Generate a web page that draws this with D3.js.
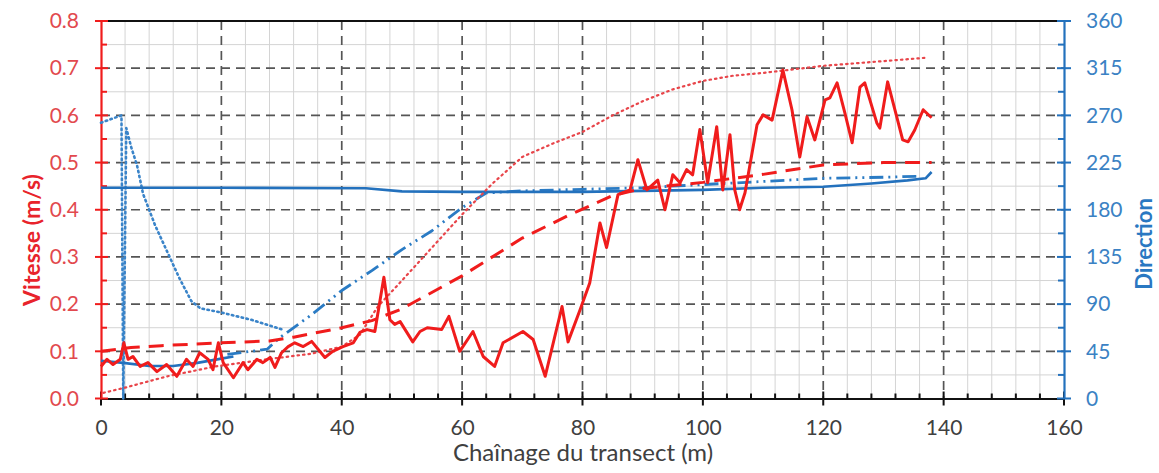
<!DOCTYPE html>
<html>
<head>
<meta charset="utf-8">
<script src="https://cdn.jsdelivr.net/npm/d3@7"></script>
<style>
  html, body { margin: 0; padding: 0; background: #fff; }
  svg { display: block; }
  text { font-family: Lato, "Open Sans", sans-serif; }
</style>
</head>
<body>
<svg id="chart" width="1159" height="473"></svg>
<script>
// ---------- data ----------
const xTicks = [0, 20, 40, 60, 80, 100, 120, 140, 160];
const vTicks = [0.0, 0.1, 0.2, 0.3, 0.4, 0.5, 0.6, 0.7, 0.8];
const dTicks = [0, 45, 90, 135, 180, 225, 270, 315, 360];

const xTitle = "Chaînage du transect (m)";
const vTitle = "Vitesse (m/s)";
const dTitle = "Direction";

// Vitesse mesurée (m/s)
const vitesse = [
  [0,0.068],[1,0.083],[2,0.072],[3.2,0.083],[3.8,0.118],[4.5,0.083],[5.3,0.089],[6.5,0.068],
  [7.8,0.076],[9.3,0.057],[10.9,0.072],[12.6,0.047],[14.2,0.083],[15.3,0.068],[16.4,0.097],
  [17.8,0.083],[18.6,0.061],[19.5,0.118],[20.3,0.076],[22,0.044],[23.6,0.076],[24.4,0.061],
  [25.9,0.083],[26.9,0.076],[28.1,0.087],[28.9,0.066],[30,0.097],[31.1,0.11],[32.2,0.118],
  [33.6,0.11],[35,0.121],[37.2,0.087],[38.5,0.1],[40.2,0.11],[41.9,0.118],[43,0.14],
  [44.2,0.146],[45.5,0.142],[47,0.257],[48,0.167],[48.8,0.157],[49.7,0.163],[51.8,0.12],
  [53,0.142],[54.2,0.15],[56.6,0.146],[57.8,0.174],[59.6,0.1],[61.8,0.142],[63.5,0.089],
  [65.4,0.068],[66.8,0.118],[70.1,0.142],[71.8,0.125],[73.8,0.047],[76.6,0.195],[77.6,0.12],
  [79.6,0.188],[81.2,0.245],[82.9,0.372],[84,0.32],[85.9,0.432],[87.9,0.442],[89.2,0.506],
  [90.7,0.442],[92.5,0.463],[93.7,0.4],[95,0.474],[96.2,0.457],[97.3,0.485],[98.3,0.474],
  [99.5,0.57],[100.8,0.457],[102.3,0.576],[103.3,0.442],[104.5,0.559],[105.3,0.442],
  [106.1,0.4],[107,0.436],[109,0.58],[110,0.601],[111.5,0.59],[113.3,0.696],[114.8,0.612],
  [116.1,0.512],[117.3,0.597],[118.6,0.548],[120.3,0.633],[121.1,0.637],[122.3,0.669],
  [123.6,0.605],[124.8,0.542],[126.1,0.66],[126.9,0.669],[128.9,0.584],[129.4,0.573],
  [130.7,0.671],[131.9,0.612],[133.2,0.548],[134.1,0.544],[135.2,0.569],[136.6,0.612],[138,0.595]
];
// Vitesse (tirets)
const vitesseTirets = [
  [0,0.1],[5,0.108],[10,0.112],[20,0.118],[28,0.122],[32,0.13],[40,0.15],[45,0.165],[50,0.19],
  [60,0.26],[70,0.34],[78,0.39],[85,0.43],[90,0.445],[100,0.458],[110,0.475],[120,0.495],
  [130,0.5],[138,0.5]
];
// Vitesse (pointillés)
const vitessePoints = [
  [0.4,0.012],[4,0.023],[11,0.047],[19,0.068],[27.5,0.083],[35,0.095],[40,0.11],[43,0.135],
  [46,0.195],[50,0.25],[55,0.32],[60,0.39],[65,0.455],[70,0.512],[75,0.54],[80,0.565],
  [85,0.6],[90,0.63],[95,0.655],[100,0.673],[105,0.684],[110,0.69],[120,0.705],[130,0.715],[137,0.722]
];
// Direction (degrés)
const direction = [
  [0,201],[20,201],[44,200.5],[50,197.5],[60,197],[80,197],[90,198],[100,199],[110,201],
  [120,202],[128,205],[134,208],[137,210],[138,216]
];
const directionDebut = [
  [0,36],[3.7,34],[8,31],[12,31],[16,34],[20,38],[22,40]
];
const directionTiretPoint = [
  [21,42],[27.6,47],[29.7,58],[35,80],[40,103],[45,122],[50,142],[55,160],[60,182],[64,196],
  [70,198],[80,199.5],[90,201],[100,204],[110,207],[120,210],[130,211],[136,212]
];
const directionPoints = [
  [0,263],[3.4,270],[3.7,0],[4.2,258],[5,240],[6,222],[7,195],[9,165],[11,140],[13,115],
  [15,93],[16.5,86],[20,82],[25,75],[30,66]
];

// ---------- layout ----------
const svg = d3.select("#chart");
const L = 101, R = 1064, T = 21, B = 398.5;
const x = d3.scaleLinear().domain([0, 160]).range([L, R]);
const yV = d3.scaleLinear().domain([0, 0.8]).range([B, T]);
const yD = d3.scaleLinear().domain([0, 360]).range([B, T]);

const RED = "#f01c1c", BLUE = "#2371bd";

// minor grid
const g = svg.append("g");
g.selectAll(".mvx").data(d3.range(0, 161, 4).filter(v => v % 20 !== 0))
  .enter().append("line")
  .attr("x1", d => x(d)).attr("x2", d => x(d)).attr("y1", T).attr("y2", B)
  .attr("stroke", "#d4d4d4").attr("stroke-width", 1);
g.selectAll(".mhy").data(d3.range(0.05, 0.8, 0.1))
  .enter().append("line")
  .attr("x1", L).attr("x2", R).attr("y1", d => yV(d)).attr("y2", d => yV(d))
  .attr("stroke", "#d4d4d4").attr("stroke-width", 1);
// major grid
g.selectAll(".Mvx").data(xTicks.slice(1, -1))
  .enter().append("line")
  .attr("x1", d => x(d)).attr("x2", d => x(d)).attr("y1", T).attr("y2", B)
  .attr("stroke", "#555").attr("stroke-width", 1.7).attr("stroke-dasharray", "9,6");
g.selectAll(".Mhy").data(vTicks.slice(1, -1))
  .enter().append("line")
  .attr("x1", L).attr("x2", R).attr("y1", d => yV(d)).attr("y2", d => yV(d))
  .attr("stroke", "#555").attr("stroke-width", 1.7).attr("stroke-dasharray", "9,6");

// top border
svg.append("line").attr("x1", L).attr("x2", R).attr("y1", T).attr("y2", T)
  .attr("stroke", "#111").attr("stroke-width", 2);

// bottom axis
const xAxis = svg.append("g").attr("transform", `translate(0,${B})`)
  .call(d3.axisBottom(x).tickValues(xTicks).tickSize(0).tickPadding(22).tickFormat(d3.format("d")));
xAxis.select(".domain").attr("stroke", "#111").attr("stroke-width", 2.2);
xAxis.selectAll("text").attr("fill", "#404040").style("font-size", "21px");
svg.append("g").selectAll("line").data(d3.range(0, 161, 4)).enter().append("line")
  .attr("x1", d => x(d)).attr("x2", d => x(d))
  .attr("y1", d => d % 20 === 0 ? B - 7 : B - 5).attr("y2", d => d % 20 === 0 ? B + 7 : B)
  .attr("stroke", "#111").attr("stroke-width", 2);

// left axis
const yAxisL = svg.append("g").attr("transform", `translate(${L},0)`)
  .call(d3.axisLeft(yV).tickValues(vTicks).tickSize(0).tickPadding(22).tickFormat(d3.format(".1f")));
yAxisL.select(".domain").attr("stroke", RED).attr("stroke-width", 2.2);
yAxisL.selectAll("text").attr("fill", "#e2494e").style("font-size", "21px");
svg.append("g").selectAll("line").data(d3.range(0, 0.801, 0.05)).enter().append("line")
  .attr("y1", d => yV(d)).attr("y2", d => yV(d))
  .attr("x1", (d, i) => i % 2 === 0 ? L - 6 : L).attr("x2", (d, i) => i % 2 === 0 ? L + 7 : L + 6)
  .attr("stroke", RED).attr("stroke-width", 2);

// right axis
const yAxisR = svg.append("g").attr("transform", `translate(${R},0)`)
  .call(d3.axisRight(yD).tickValues(dTicks).tickSize(0).tickPadding(22).tickFormat(d3.format("d")));
yAxisR.select(".domain").attr("stroke", BLUE).attr("stroke-width", 2.2);
yAxisR.selectAll("text").attr("fill", "#3b82c4").style("font-size", "21px");
svg.append("g").selectAll("line").data(d3.range(0, 360.1, 22.5)).enter().append("line")
  .attr("y1", d => yD(d)).attr("y2", d => yD(d))
  .attr("x1", (d, i) => i % 2 === 0 ? R - 7 : R - 6).attr("x2", (d, i) => i % 2 === 0 ? R + 7 : R)
  .attr("stroke", BLUE).attr("stroke-width", 2);

// titles
svg.append("text").attr("x", 583).attr("y", 461)
  .attr("text-anchor", "middle").attr("fill", "#404040").style("font-size", "24px").text(xTitle);
svg.append("text").attr("transform", "translate(40,240) rotate(-90)")
  .attr("text-anchor", "middle").attr("fill", "#e8232b").style("font-size", "23px")
  .style("font-weight", "bold").text(vTitle);
svg.append("text").attr("transform", "translate(1152,244) rotate(-90)")
  .attr("text-anchor", "middle").attr("fill", "#2a78c2").style("font-size", "22px")
  .style("font-weight", "bold").text(dTitle);

// ---------- series ----------
const lineV = d3.line().x(d => x(d[0])).y(d => yV(d[1]));
const lineD = d3.line().x(d => x(d[0])).y(d => yD(d[1]));
const plot = svg.append("g").attr("fill", "none").attr("stroke-linejoin", "round");

plot.append("path").datum(directionPoints).attr("d", lineD)
  .attr("stroke", "#3a84c9").attr("stroke-width", 2.6).attr("stroke-dasharray", "1.5,3.5")
  .attr("stroke-linecap", "round");
plot.append("path").datum(directionTiretPoint).attr("d", lineD)
  .attr("stroke", "#2a7bc4").attr("stroke-width", 2.8).attr("stroke-dasharray", "14,5,2,5,2,5");
plot.append("path").datum(directionDebut).attr("d", lineD)
  .attr("stroke", BLUE).attr("stroke-width", 2.6);
plot.append("path").datum(direction).attr("d", lineD)
  .attr("stroke", BLUE).attr("stroke-width", 2.6);

plot.append("path").datum(vitessePoints).attr("d", lineV)
  .attr("stroke", "#e8454a").attr("stroke-width", 2.2).attr("stroke-dasharray", "1.5,4")
  .attr("stroke-linecap", "round");
plot.append("path").datum(vitesseTirets).attr("d", lineV)
  .attr("stroke", RED).attr("stroke-width", 3).attr("stroke-dasharray", "15,9");
plot.append("path").datum(vitesse).attr("d", lineV)
  .attr("stroke", RED).attr("stroke-width", 3);
</script>
</body>
</html>
